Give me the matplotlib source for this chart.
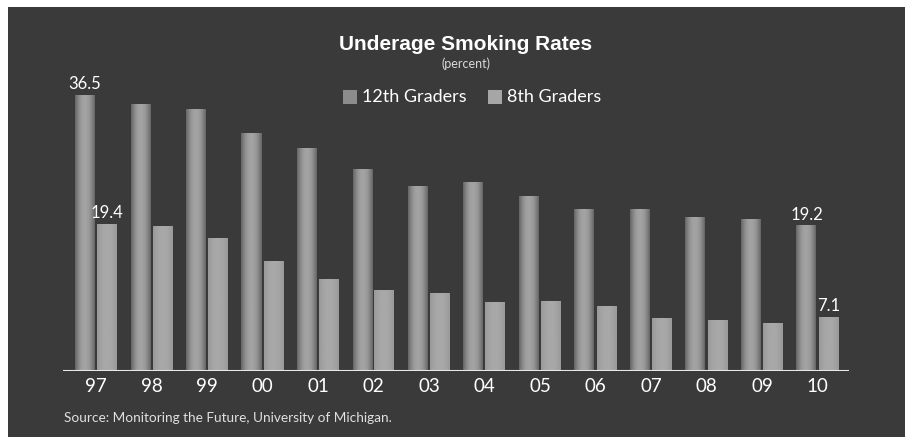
import numpy as np
import matplotlib.pyplot as plt
from matplotlib.patches import Rectangle

years = ["97", "98", "99", "00", "01", "02", "03", "04", "05", "06", "07", "08", "09", "10"]
grade12 = [36.5, 35.2, 34.6, 31.4, 29.4, 26.7, 24.4, 24.9, 23.1, 21.4, 21.4, 20.3, 20.0, 19.2]
grade8 = [19.4, 19.1, 17.5, 14.5, 12.1, 10.6, 10.2, 9.1, 9.2, 8.5, 6.9, 6.7, 6.3, 7.1]
labeled = {(0, "12"): "36.5", (0, "8"): "19.4", (13, "12"): "19.2", (13, "8"): "7.1"}

BG = "#3a3a3a"
LIGHT_FONT = ["Lato", "DejaVu Sans"]
BOLD_FONT = ["Liberation Sans", "DejaVu Sans"]

W, H = 908, 437
fig = plt.figure(figsize=(W / 100, H / 100), dpi=100, facecolor="white")

# dark panel behind everything
fig.patches.append(Rectangle((8 / W, 0), (905 - 8) / W, (H - 7) / H,
                             transform=fig.transFigure, facecolor=BG,
                             edgecolor="none", zorder=-5))

base_px, top_px = 371, 60
left_px, right_px = 63, 849
px_per_unit = 7.56
ax = fig.add_axes([left_px / W, (H - base_px) / H,
                   (right_px - left_px) / W, (base_px - top_px) / H])
ax.set_facecolor("none")

spacing = 55.5
bw = 20 / spacing
off = 11 / spacing
xlim = ((left_px - 96) / spacing, (right_px - 96) / spacing)
ylim = (0, (base_px - top_px) / px_per_unit)

x = np.arange(len(years))

# 12th graders: rounded shading, lighter down the middle
shade = np.linspace(-1, 1, 40)
grad = 0.40 + 0.24 * (1 - shade ** 2)
for xi, v in zip(x, grade12):
    ax.imshow(grad[np.newaxis, :], cmap="gray", vmin=0, vmax=1, aspect="auto",
              extent=(xi - off - bw / 2, xi - off + bw / 2, 0, v), zorder=2)

# 8th graders: flatter, lighter grey
grad8 = 0.60 + 0.06 * (1 - shade ** 2)
for xi, v in zip(x, grade8):
    ax.imshow(grad8[np.newaxis, :], cmap="gray", vmin=0, vmax=1, aspect="auto",
              extent=(xi + off - bw / 2, xi + off + bw / 2, 0, v), zorder=2)

for (i, g), txt in labeled.items():
    if g == "12":
        xi, v = x[i] - off, grade12[i]
    else:
        xi, v = x[i] + off, grade8[i]
    ax.text(xi, v + 0.4, txt, ha="center", va="bottom", color="white",
            fontsize=12, family=LIGHT_FONT)

ax.set_xlim(*xlim)
ax.set_ylim(*ylim)
ax.axhline(0, color="#e8e8e8", lw=1.5, zorder=3)
for s in ax.spines.values():
    s.set_visible(False)
ax.set_yticks([])
ax.set_xticks(x)
ax.set_xticklabels(years, color="white", fontsize=13.5, family=LIGHT_FONT)
ax.tick_params(axis="x", length=0, pad=5)

# title block and legend
fig.text(466 / W, 1 - 45 / H, "Underage Smoking Rates", ha="center", va="center",
         color="white", fontsize=15, fontweight="bold", family=BOLD_FONT)
fig.text(466 / W, 1 - 64 / H, "(percent)", ha="center", va="center",
         color="#d8d8d8", fontsize=9, family=LIGHT_FONT)

for sx, col, label in [(343, "#8c8c8c", "12th Graders"), (488, "#a6a6a6", "8th Graders")]:
    fig.patches.append(Rectangle((sx / W, 1 - 104 / H), 14 / W, 14 / H,
                                 transform=fig.transFigure, facecolor=col,
                                 edgecolor="none", zorder=2))
    fig.text((sx + 19) / W, 1 - 97 / H, label, ha="left", va="center",
             color="white", fontsize=13, family=LIGHT_FONT)

fig.text(64 / W, 1 - 418 / H, "Source: Monitoring the Future, University of Michigan.",
         ha="left", va="center", color="#e0e0e0", fontsize=9.8, family=LIGHT_FONT)

fig.savefig("out.png", dpi=100, facecolor="white")
